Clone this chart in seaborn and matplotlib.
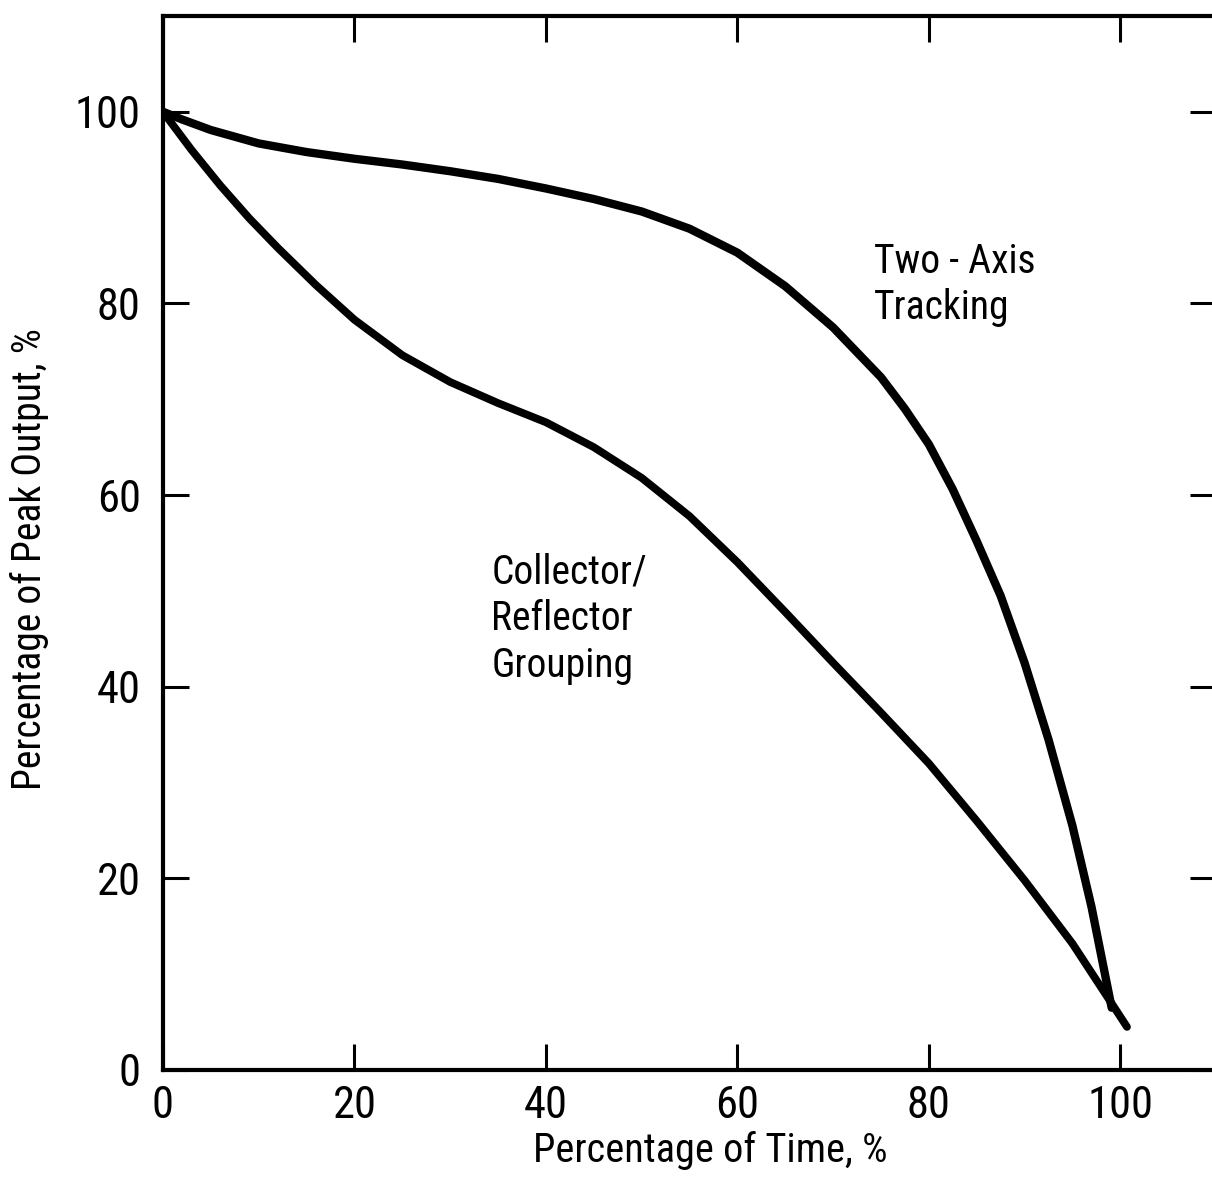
import matplotlib
matplotlib.use("Agg")
import matplotlib.pyplot as plt
import seaborn as sns
import pandas as pd

# Two-Axis Tracking curve
two_axis_x = [0, 2, 5, 10, 15, 20, 25, 30, 35, 40, 45, 50, 55, 60, 65, 70, 75, 77.5, 80, 82.5, 85, 87.5, 90, 92.5, 95, 97, 99.1]
two_axis_y = [100, 99.2, 98.1, 96.7, 95.8, 95.1, 94.5, 93.8, 93.0, 92.0, 90.9, 89.6, 87.8, 85.3, 81.8, 77.5, 72.3, 69.0, 65.3, 60.6, 55.2, 49.5, 42.5, 34.5, 25.5, 17.0, 6.5]

# Collector/Reflector Grouping curve
grouping_x = [0, 3, 6, 9, 12, 16, 20, 25, 30, 35, 40, 45, 50, 55, 60, 65, 70, 75, 80, 85, 90, 95, 99, 100.7]
grouping_y = [100, 96.0, 92.3, 88.9, 85.8, 81.9, 78.3, 74.6, 71.8, 69.6, 67.6, 65.0, 61.8, 57.8, 53.0, 47.8, 42.5, 37.3, 32.0, 26.0, 19.8, 13.2, 7.1, 4.5]

ticks = [0, 20, 40, 60, 80, 100]
tick_labels = ["0", "20", "40", "60", "80", "100"]

sns.set_style("ticks")
plt.rcParams["font.family"] = ["Roboto Condensed", "Liberation Sans Narrow", "DejaVu Sans"]
plt.rcParams["font.stretch"] = "condensed"
plt.rcParams["text.color"] = "black"
plt.rcParams["axes.labelcolor"] = "black"
plt.rcParams["xtick.color"] = "black"
plt.rcParams["ytick.color"] = "black"

fig = plt.figure(figsize=(12.12, 11.77), dpi=100)
ax = fig.add_axes([163 / 1212, 107 / 1177, 1053 / 1212, 1054 / 1177])

df1 = pd.DataFrame({"x": two_axis_x, "y": two_axis_y})
df2 = pd.DataFrame({"x": grouping_x, "y": grouping_y})
sns.lineplot(data=df1, x="x", y="y", ax=ax, sort=False, estimator=None,
             color="black", linewidth=6, solid_joinstyle="round", solid_capstyle="round")
sns.lineplot(data=df2, x="x", y="y", ax=ax, sort=False, estimator=None,
             color="black", linewidth=5.6, solid_joinstyle="round", solid_capstyle="round")

ax.set_xlim(0, 110)
ax.set_ylim(0, 110)
ax.set_xticks(ticks)
ax.set_xticklabels(tick_labels)
ax.set_yticks(ticks)
ax.set_yticklabels(tick_labels)

for s in ax.spines.values():
    s.set_visible(True)
    s.set_linewidth(3)
    s.set_color("black")

ax.tick_params(axis="both", direction="in", length=19, width=2.2, color="black",
               labelcolor="black", top=True, right=True, labelsize=32)
ax.tick_params(axis="x", pad=11)
ax.tick_params(axis="y", pad=16)

ax.set_xlabel("Percentage of Time, %", fontsize=29)
ax.set_ylabel("Percentage of Peak Output, %", fontsize=28.5)
ax.xaxis.set_label_coords(0.52, -0.058)
ax.yaxis.set_label_coords(-0.108, 0.485)

ax.text(74.3, 83.2, "Two - Axis", fontsize=28.5, ha="left", va="baseline")
ax.text(74.3, 78.4, "Tracking", fontsize=28.5, ha="left", va="baseline")
ax.text(34.3, 50.8, "Collector/", fontsize=28.5, ha="left", va="baseline")
ax.text(34.3, 45.9, "Reflector", fontsize=28.5, ha="left", va="baseline")
ax.text(34.3, 41.0, "Grouping", fontsize=28.5, ha="left", va="baseline")

fig.savefig("out.png", dpi=100)
